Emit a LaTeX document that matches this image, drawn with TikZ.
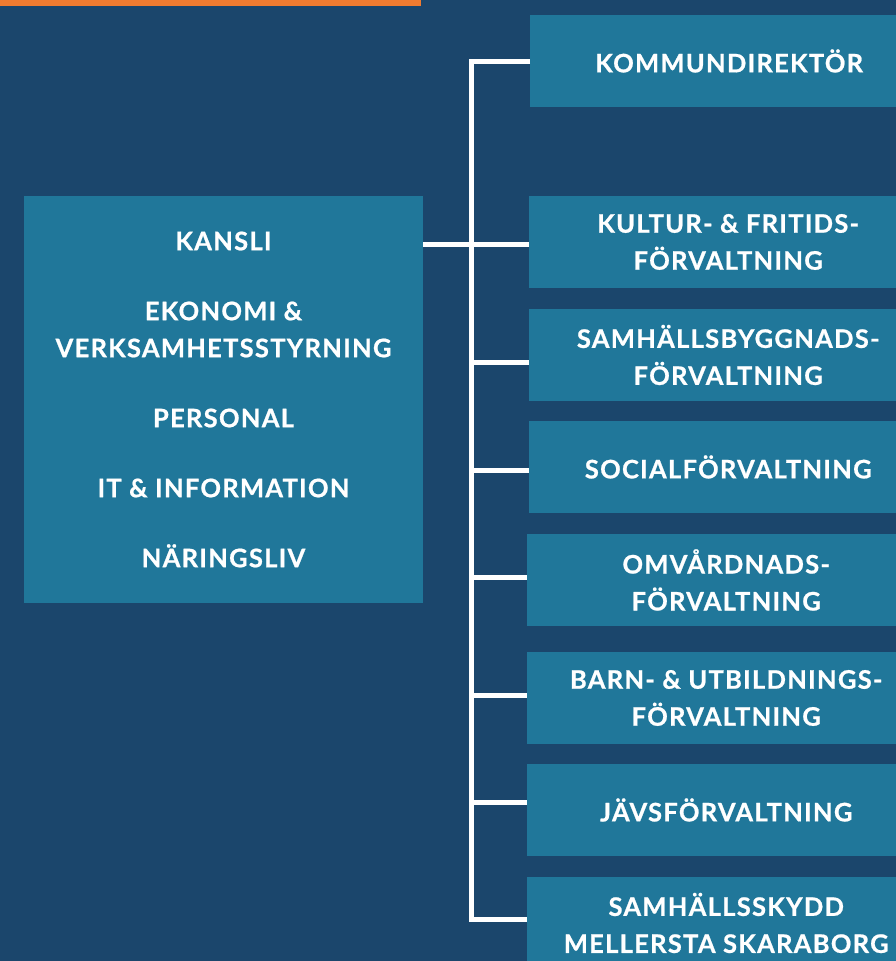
\documentclass[tikz,border=0pt]{standalone}
\usepackage{fontspec}
\setmainfont{Lato}[LetterSpace=5, BoldFeatures={FakeBold=0.8}]
\definecolor{bgblue}{RGB}{27,70,108}
\definecolor{boxblue}{RGB}{32,119,154}
\definecolor{barorange}{RGB}{240,123,48}
\tikzset{
  orgbox/.style={fill=boxblue, draw=none, inner sep=0pt, align=center,
    text=white, font=\fontsize{25.5}{37}\selectfont\bfseries},
  rbox/.style={orgbox, minimum width=398pt, minimum height=92pt, anchor=west},
  link/.style={draw=white, line width=5pt, line join=miter}
}
\begin{document}
\begin{tikzpicture}[x=1pt,y=-1pt]
\fill[bgblue] (0,0) rectangle (896,961);
\clip (0,0) rectangle (896,961);
\useasboundingbox (0,0) rectangle (896,961);
\fill[barorange] (0,0) rectangle (421,6);

\node[orgbox, minimum width=399pt, minimum height=407pt] (L) at (223.5,399.5)
  {KANSLI\\[33pt]EKONOMI \&\\VERKSAMHETSSTYRNING\\[33pt]PERSONAL\\[33pt]IT \& INFORMATION\\[33pt]NÄRINGSLIV};

\node[rbox] (r1) at (530,61) {KOMMUNDIREKTÖR};
\node[rbox] (r2) at (529,242) {KULTUR- \& FRITIDS-\\FÖRVALTNING};
\node[rbox] (r3) at (529,355) {SAMHÄLLSBYGGNADS-\\FÖRVALTNING};
\node[rbox] (r4) at (529,467) {SOCIALFÖRVALTNING};
\node[rbox] (r5) at (527,580) {OMVÅRDNADS-\\FÖRVALTNING};
\node[rbox] (r6) at (527,698) {BARN- \& UTBILDNINGS-\\FÖRVALTNING};
\node[rbox] (r7) at (527,810) {JÄVSFÖRVALTNING};
\node[rbox] (r8) at (527,923) {SAMHÄLLSSKYDD\\MELLERSTA SKARABORG};

\coordinate (c1) at (471.5,61);
\coordinate (c2) at (471.5,244);
\coordinate (c3) at (471.5,362);
\coordinate (c4) at (471.5,470);
\coordinate (c5) at (471.5,577);
\coordinate (c6) at (471.5,695);
\coordinate (c7) at (471.5,802);
\coordinate (c8) at (471.5,919);

\draw[link] (c1 -| r1.west) -- (c1) -- (c8) -- (c8 -| r8.west);
\draw[link] (c2 -| L.east) -- (c2 -| r2.west);
\draw[link] (c3) -- (c3 -| r3.west);
\draw[link] (c4) -- (c4 -| r4.west);
\draw[link] (c5) -- (c5 -| r5.west);
\draw[link] (c6) -- (c6 -| r6.west);
\draw[link] (c7) -- (c7 -| r7.west);
\end{tikzpicture}
\end{document}
